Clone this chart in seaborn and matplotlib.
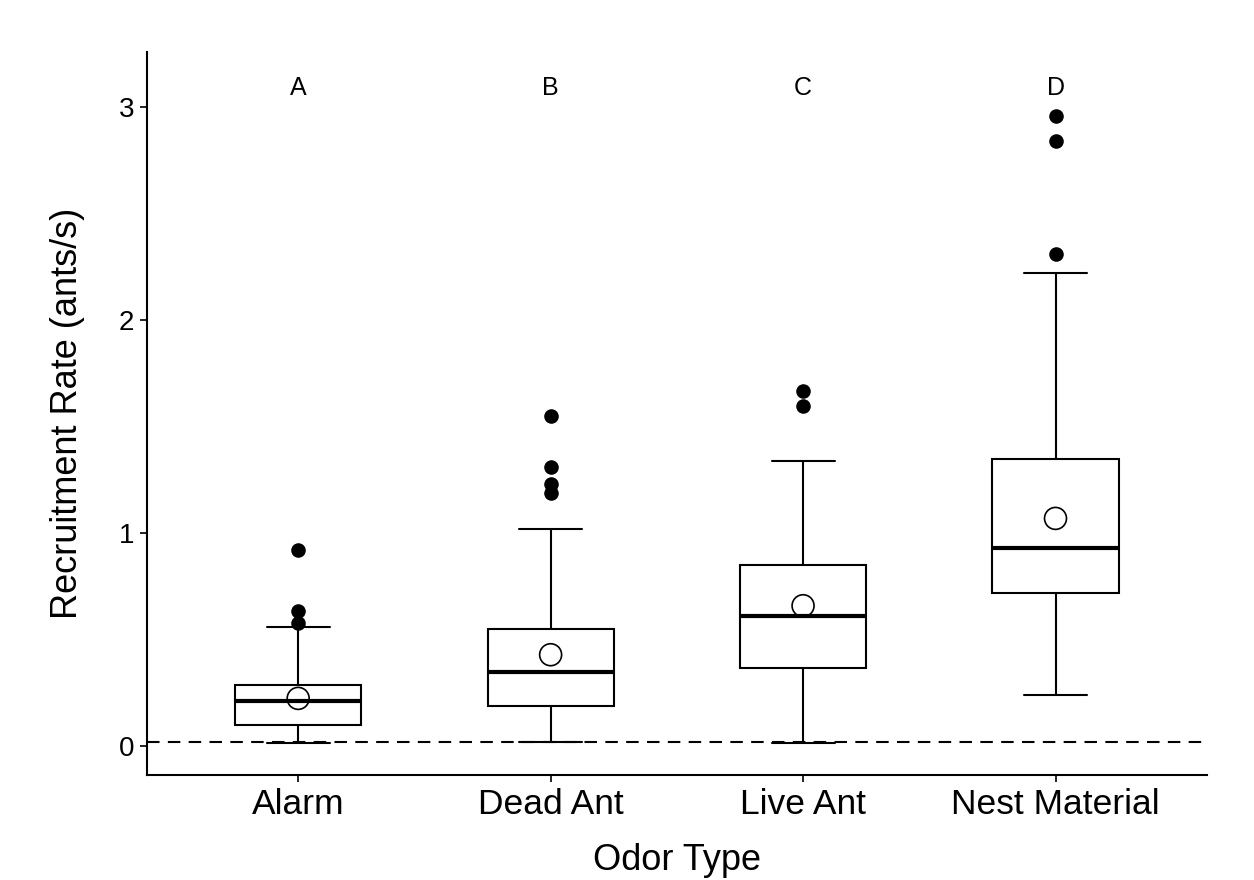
"""Recruitment rate by odor type (boxplot with means)."""
import matplotlib
import matplotlib.pyplot as plt
import pandas as pd
import seaborn as sns

matplotlib.use("Agg")

# summary statistics
odor_types = ["Alarm", "Dead Ant", "Live Ant", "Nest Material"]
whisker_low = [0.014, 0.02, 0.015, 0.24]
q1 = [0.10, 0.19, 0.37, 0.72]
median = [0.215, 0.35, 0.61, 0.93]
q3 = [0.29, 0.55, 0.85, 1.35]
whisker_high = [0.56, 1.02, 1.34, 2.22]
means = [0.225, 0.43, 0.66, 1.07]
outliers = [
    [0.58, 0.635, 0.92],
    [1.19, 1.23, 1.31, 1.55],
    [1.60, 1.67],
    [2.31, 2.84, 2.96],
]
letters = ["A", "B", "C", "D"]
letter_y = 3.09
baseline = 0.02

sns.set_style("white")
plt.rcParams["font.family"] = ["Liberation Sans", "DejaVu Sans"]
plt.rcParams["text.color"] = "black"
plt.rcParams["axes.labelcolor"] = "black"
plt.rcParams["xtick.color"] = "black"
plt.rcParams["ytick.color"] = "black"

fig = plt.figure(figsize=(12.54, 8.8), dpi=100)
ax = fig.add_axes([0.117, 0.119, 0.8455, 0.822])

stats = []
for i, name in enumerate(odor_types):
    stats.append({
        "label": name, "whislo": whisker_low[i], "q1": q1[i], "med": median[i],
        "q3": q3[i], "whishi": whisker_high[i], "fliers": [],
    })
ax.bxp(
    stats, positions=range(len(odor_types)), widths=0.5, showfliers=False,
    patch_artist=True,
    boxprops=dict(facecolor="white", edgecolor="black", linewidth=1.5),
    medianprops=dict(color="black", linewidth=3),
    whiskerprops=dict(color="black", linewidth=1.5),
    capprops=dict(color="black", linewidth=1.5),
    capwidths=0.25, zorder=2,
)

out_df = pd.DataFrame(
    [(odor_types[i], v) for i, vals in enumerate(outliers) for v in vals],
    columns=["odor", "rate"],
)
sns.scatterplot(data=out_df, x="odor", y="rate", color="black", s=110,
                edgecolor="black", linewidth=0, ax=ax, zorder=3)

mean_df = pd.DataFrame({"odor": odor_types, "rate": means})
sns.scatterplot(data=mean_df, x="odor", y="rate", facecolor="none",
                edgecolor="black", s=250, linewidth=1.2, ax=ax, zorder=4)

ax.axhline(baseline, color="black", linestyle=(0, (6, 4)), linewidth=1.5, zorder=1)

for i, letter in enumerate(letters):
    ax.text(i, letter_y, letter, ha="center", va="center", fontsize=18)

ax.set_xlim(-0.6, 3.6)
ax.set_ylim(-0.136, 3.26)
ax.set_xticks(range(len(odor_types)))
ax.set_xticklabels(odor_types)
ax.set_yticks([0, 1, 2, 3])
ax.set_yticklabels(["0", "1", "2", "3"])
ax.tick_params(axis="x", labelsize=25.5, length=5, width=1.2,
               direction="out", bottom=True, pad=4)
ax.tick_params(axis="y", labelsize=20, length=5, width=1.2,
               direction="out", left=True, pad=4)
ax.set_xlabel("Odor Type", fontsize=26, labelpad=16)
ax.set_ylabel("Recruitment Rate (ants/s)", fontsize=26, labelpad=24)

sns.despine(ax=ax)
for side in ["left", "bottom"]:
    ax.spines[side].set_color("black")
    ax.spines[side].set_linewidth(1.5)

fig.savefig("out.png", dpi=100)
plt.close(fig)
